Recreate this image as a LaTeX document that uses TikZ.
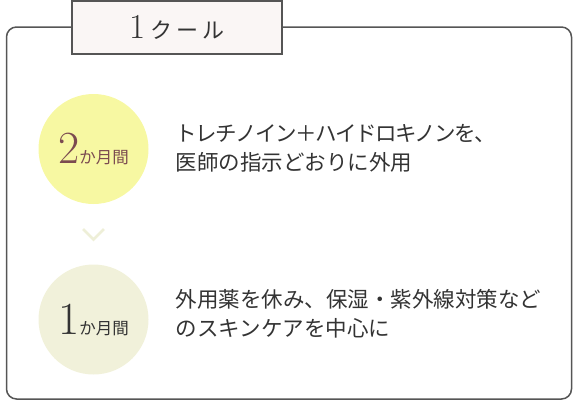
\documentclass[tikz,border=0pt]{standalone}
\usepackage{fontspec}
\newfontfamily\jp{Noto Sans CJK JP}
\newfontfamily\jptight[LetterSpace=-6.5]{Noto Sans CJK JP}
\usetikzlibrary{positioning}

\definecolor{framegray}{HTML}{555555}
\definecolor{titlefill}{HTML}{FAF6F5}
\definecolor{textgray}{HTML}{333333}
\definecolor{monthtwo}{HTML}{F7F8A2}
\definecolor{monthone}{HTML}{F1F1DA}
\definecolor{chevroncol}{HTML}{EEEFD8}
\definecolor{numbrown}{HTML}{7B4B50}

\newcommand{\bignum}[1]{{\fontsize{46}{46}\selectfont #1}}
\newcommand{\months}[1]{{\jp\fontsize{16.5}{16.5}\selectfont #1}}

\begin{document}
\begin{tikzpicture}[x=1pt, y=-1pt, line width=1.5pt]

    \tikzstyle{frame}=[draw=framegray, rounded corners=10pt]
    \tikzstyle{titlebox}=[draw=framegray, fill=titlefill, minimum width=210pt, minimum height=53pt, inner sep=0pt, text=textgray]
    \tikzstyle{period}=[circle, minimum size=110pt, inner sep=0pt]
    \tikzstyle{note}=[anchor=west, align=left, inner sep=0pt, text=textgray, font=\jp\fontsize{21.5}{29}\selectfont]
    \tikzstyle{chevron}=[draw=chevroncol, line width=2.6pt]

    \useasboundingbox (0,0) rectangle (580,410);

    % outer frame and title
    \draw[frame] (6.5,27) rectangle (571.5,399);
    \node[titlebox] (title) at (177,27.5)
        {\fontsize{35}{35}\selectfont 1\kern4pt{\jp\fontsize{22}{22}\selectfont ク\kern4pt ー\kern4pt ル}};

    % periods
    \node[period, fill=monthtwo, text=numbrown] (two) at (93.5,149) {\bignum{2}\months{か月間}};
    \node[period, fill=monthone, text=textgray] (one) at (93.5,319.5) {\bignum{1}\months{か月間}};

    \node[note] (twotext) at (175,148) {{\jptight トレチノイン＋ハイドロキノンを、}\\医師の指示どおりに外用};
    \node[note] (onetext) at (175,314) {外用薬を休み、保湿・紫外線対策など\\のスキンケアを中心に};

    % arrow down
    \coordinate (cl) at (83,229);
    \coordinate (cm) at (93.5,239.5);
    \coordinate (cr) at (104,229);
    \draw[chevron] (cl) -- (cm) -- (cr);
\end{tikzpicture}
\end{document}
